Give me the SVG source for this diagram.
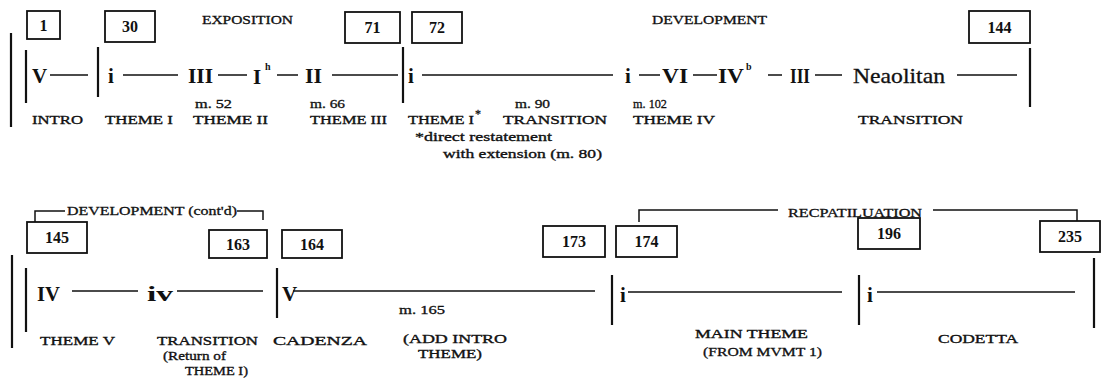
<svg xmlns="http://www.w3.org/2000/svg" width="1103" height="380" viewBox="0 0 1103 380">
<style>
text{font-family:"Liberation Serif","Times New Roman",serif;fill:#111}
.ch{font-size:21px;font-weight:bold}
.np{font-size:21px;stroke:#111;stroke-width:0.3}
.sup{font-size:10px;font-weight:bold}
.lb{font-size:13px;stroke:#111;stroke-width:0.35}
.sm{font-size:12px;stroke:#111;stroke-width:0.3}
.num{font-size:16px;font-weight:bold;text-anchor:middle}
.hd{font-size:12px;stroke:#111;stroke-width:0.3}
.box{fill:none;stroke:#111;stroke-width:1.8}
.ln{stroke:#111;stroke-width:1.5;fill:none}
.bar{stroke:#111;stroke-width:2.2;fill:none}
</style>
<rect width="1103" height="380" fill="#fff"/>

<g id="headings">
<text class="hd" x="202" y="24" textLength="91" lengthAdjust="spacingAndGlyphs">EXPOSITION</text>
<text class="hd" x="652" y="24" textLength="115" lengthAdjust="spacingAndGlyphs">DEVELOPMENT</text>
<text class="sm" x="67" y="215" textLength="170" lengthAdjust="spacingAndGlyphs">DEVELOPMENT (cont'd)</text>
<text class="sm" x="788" y="217" textLength="134" lengthAdjust="spacingAndGlyphs">RECPATILUATION</text>
</g>

<g id="m1"><rect class="box" x="27" y="11" width="33" height="28"/><text class="num" x="43.5" y="31">1</text></g>
<g id="m30"><rect class="box" x="105" y="11" width="50" height="31"/><text class="num" x="130" y="32">30</text></g>
<g id="m71"><rect class="box" x="345" y="12" width="55" height="31"/><text class="num" x="372.5" y="33">71</text></g>
<g id="m72"><rect class="box" x="412" y="12" width="50" height="31"/><text class="num" x="437" y="33">72</text></g>
<g id="m144"><rect class="box" x="969" y="11" width="61" height="32"/><text class="num" x="999.5" y="33">144</text></g>
<g id="m145"><rect class="box" x="27" y="222" width="60" height="31"/><text class="num" x="57" y="243">145</text></g>
<g id="m163"><rect class="box" x="209" y="230" width="58" height="28"/><text class="num" x="238" y="250">163</text></g>
<g id="m164"><rect class="box" x="282" y="230" width="60" height="28"/><text class="num" x="312" y="250">164</text></g>
<g id="m173"><rect class="box" x="543" y="226" width="62" height="31"/><text class="num" x="574" y="247">173</text></g>
<g id="m174"><rect class="box" x="616" y="226" width="61" height="31"/><text class="num" x="646.5" y="247">174</text></g>
<g id="m196"><rect class="box" x="858" y="218" width="62" height="31"/><text class="num" x="889" y="239">196</text></g>
<g id="m235"><rect class="box" x="1040" y="221" width="60" height="31"/><text class="num" x="1070" y="242">235</text></g>

<g id="connectors">
<path class="bar" d="M11,33V127 M26,50V103 M98,47V97 M403,47V103 M1030,48V107"/>
<path class="bar" d="M12,255V348 M26,268V332 M277,268V318 M612,275V325 M859,275V325 M1094,258V328"/>
<path class="ln" d="M35,222V211H65 M237,211H263V220"/>
<path class="ln" d="M639,222V210H778 M933,210H1077V221"/>
<path class="ln" d="M50,75H88 M123,75H178 M218,75H247 M277,75H298 M332,75H398 M422,75H613 M639,75H660 M693,75H717 M768,75H782 M815,75H842 M957,75H1017"/>
<path class="ln" d="M72,291H138 M177,291H263 M293,291H595 M628,292H842 M877,292H1075"/>
</g>

<g id="chords-top">
<text class="ch" x="32" y="83">V</text>
<text class="ch" x="108" y="83">i</text>
<text class="ch" x="188" y="83" textLength="25" lengthAdjust="spacingAndGlyphs">III</text>
<text class="ch" x="253" y="84">I</text><text class="sup" x="265" y="70">h</text>
<text class="ch" x="305" y="83" textLength="17" lengthAdjust="spacingAndGlyphs">II</text>
<text class="ch" x="408" y="83">i</text>
<text class="ch" x="625" y="83">i</text>
<text class="ch" x="662" y="83" textLength="26" lengthAdjust="spacingAndGlyphs">VI</text>
<text class="ch" x="718" y="83" textLength="26" lengthAdjust="spacingAndGlyphs">IV</text><text class="sup" x="746" y="70">b</text>
<text class="ch" x="790" y="83" textLength="20" lengthAdjust="spacingAndGlyphs">III</text>
<text class="np" x="853" y="83" textLength="92" lengthAdjust="spacingAndGlyphs">Neaolitan</text>
</g>

<g id="labels-top">
<text class="sm" x="195" y="108" textLength="37" lengthAdjust="spacingAndGlyphs">m. 52</text>
<text class="sm" x="310" y="108" textLength="35" lengthAdjust="spacingAndGlyphs">m. 66</text>
<text class="sm" x="515" y="108" textLength="35" lengthAdjust="spacingAndGlyphs">m. 90</text>
<text class="sm" x="633" y="108" textLength="34" lengthAdjust="spacingAndGlyphs">m. 102</text>
<text class="lb" x="32" y="124" textLength="51" lengthAdjust="spacingAndGlyphs">INTRO</text>
<text class="lb" x="105" y="124" textLength="68" lengthAdjust="spacingAndGlyphs">THEME I</text>
<text class="lb" x="193" y="124" textLength="75" lengthAdjust="spacingAndGlyphs">THEME II</text>
<text class="lb" x="310" y="124" textLength="77" lengthAdjust="spacingAndGlyphs">THEME III</text>
<text class="lb" x="408" y="124" textLength="66" lengthAdjust="spacingAndGlyphs">THEME I</text><text class="sm" x="475" y="118">*</text>
<text class="lb" x="503" y="124" textLength="104" lengthAdjust="spacingAndGlyphs">TRANSITION</text>
<text class="lb" x="633" y="124" textLength="82" lengthAdjust="spacingAndGlyphs">THEME IV</text>
<text class="lb" x="858" y="124" textLength="105" lengthAdjust="spacingAndGlyphs">TRANSITION</text>
<text class="lb" x="415" y="141" textLength="137" lengthAdjust="spacingAndGlyphs">*direct restatement</text>
<text class="lb" x="443" y="158" textLength="159" lengthAdjust="spacingAndGlyphs">with extension (m. 80)</text>
</g>

<g id="chords-bottom">
<text class="ch" x="37" y="301" textLength="23" lengthAdjust="spacingAndGlyphs">IV</text>
<text class="ch" x="147" y="301" textLength="26" lengthAdjust="spacingAndGlyphs">iv</text>
<text class="ch" x="282" y="301">V</text>
<text class="ch" x="620" y="302">i</text>
<text class="ch" x="867" y="302">i</text>
</g>

<g id="labels-bottom">
<text class="sm" x="399" y="314" textLength="46" lengthAdjust="spacingAndGlyphs">m. 165</text>
<text class="lb" x="40" y="345" textLength="75" lengthAdjust="spacingAndGlyphs">THEME V</text>
<text class="lb" x="157" y="345" textLength="101" lengthAdjust="spacingAndGlyphs">TRANSITION</text>
<text class="lb" x="163" y="360" textLength="63" lengthAdjust="spacingAndGlyphs">(Return of</text>
<text class="lb" x="185" y="375" textLength="63" lengthAdjust="spacingAndGlyphs">THEME I)</text>
<text class="lb" x="273" y="345" textLength="94" lengthAdjust="spacingAndGlyphs">CADENZA</text>
<text class="lb" x="403" y="343" textLength="104" lengthAdjust="spacingAndGlyphs">(ADD INTRO</text>
<text class="lb" x="418" y="358" textLength="64" lengthAdjust="spacingAndGlyphs">THEME)</text>
<text class="lb" x="695" y="338" textLength="113" lengthAdjust="spacingAndGlyphs">MAIN THEME</text>
<text class="sm" x="703" y="356" textLength="119" lengthAdjust="spacingAndGlyphs">(FROM MVMT 1)</text>
<text class="lb" x="938" y="343" textLength="80" lengthAdjust="spacingAndGlyphs">CODETTA</text>
</g>
</svg>
